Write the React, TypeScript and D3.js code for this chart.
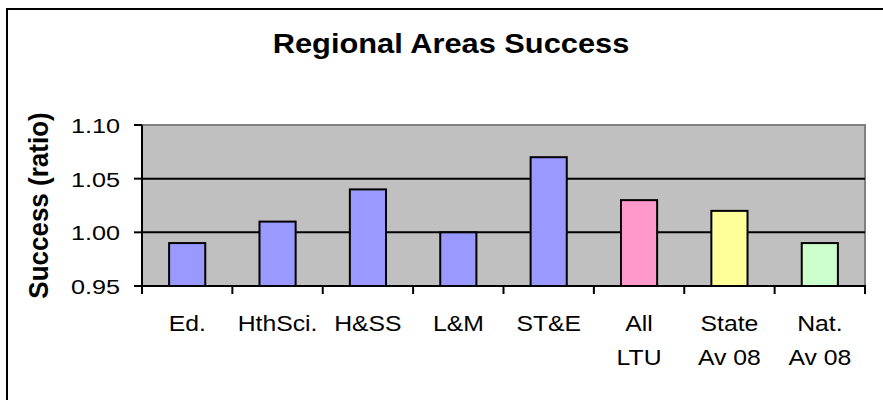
import React from "react";
import * as d3 from "d3";

const categories: string[][] = [
  ["Ed."],
  ["HthSci."],
  ["H&SS"],
  ["L&M"],
  ["ST&E"],
  ["All", "LTU"],
  ["State", "Av 08"],
  ["Nat.", "Av 08"],
];
const values: number[] = [0.99, 1.01, 1.04, 1.0, 1.07, 1.03, 1.02, 0.99];
const barColors: string[] = [
  "#9999FF", "#9999FF", "#9999FF", "#9999FF", "#9999FF", "#FF99CC", "#FFFF99", "#CCFFCC",
];
const yTicks: number[] = [0.95, 1.0, 1.05, 1.1];
const gridValues: number[] = [1.0, 1.05];
const title = "Regional Areas Success";
const yTitle = "Success (ratio)";

const W = 883;
const H = 400;
const plot = { left: 142, right: 865, top: 125, bottom: 286 };
const FONT = "'Liberation Sans', Arial, sans-serif";

export default function App() {
  const keys = categories.map((c) => c.join(" "));
  const x = d3
    .scaleBand<string>()
    .domain(keys)
    .range([plot.left, plot.right])
    .paddingInner(0.6)
    .paddingOuter(0.3);
  const y = d3.scaleLinear().domain([0.95, 1.1]).range([plot.bottom, plot.top]);
  const step = x.step();
  const boundaries = d3.range(keys.length + 1).map((i) => plot.left + i * step);

  return (
    <svg
      width={W}
      height={H}
      style={{ position: "absolute", left: 0, top: 0, background: "#fff" }}
      fontFamily={FONT}
    >
      {/* outer chart border */}
      <rect x={7} y={9} width={W + 20} height={H + 20} fill="#fff" stroke="#000" strokeWidth={2} />

      {/* title */}
      <g transform={`translate(451,53) scale(1.12,1)`}>
        <text textAnchor="middle" fontSize={27.5} fontWeight="bold" fill="#000">
          {title}
        </text>
      </g>

      {/* plot area */}
      <rect
        x={plot.left}
        y={plot.top}
        width={plot.right - plot.left}
        height={plot.bottom - plot.top}
        fill="#C0C0C0"
        stroke="#808080"
        strokeWidth={2}
      />

      {/* gridlines */}
      {gridValues.map((v) => (
        <line key={v} x1={plot.left} x2={plot.right} y1={y(v)} y2={y(v)} stroke="#000" strokeWidth={2} />
      ))}

      {/* bars */}
      {values.map((v, i) => (
        <rect
          key={keys[i]}
          x={x(keys[i])!}
          y={y(v)}
          width={x.bandwidth()}
          height={y(0.95) - y(v)}
          fill={barColors[i]}
          stroke="#000"
          strokeWidth={2}
        />
      ))}

      {/* axes */}
      <line x1={plot.left} x2={plot.left} y1={plot.top} y2={plot.bottom + 8} stroke="#000" strokeWidth={2} />
      <line x1={plot.left - 8} x2={plot.right + 1} y1={plot.bottom} y2={plot.bottom} stroke="#000" strokeWidth={2} />

      {/* y ticks */}
      {yTicks.map((t) => (
        <g key={t}>
          <line x1={plot.left - 8} x2={plot.left} y1={y(t)} y2={y(t)} stroke="#000" strokeWidth={2} />
          <g transform={`translate(120,${y(t) + 8}) scale(1.2,1)`}>
            <text textAnchor="end" fontSize={21} fill="#000">
              {d3.format(".2f")(t)}
            </text>
          </g>
        </g>
      ))}

      {/* x ticks */}
      {boundaries.map((bx, i) => (
        <line key={i} x1={bx} x2={bx} y1={plot.bottom} y2={plot.bottom + 8} stroke="#000" strokeWidth={2} />
      ))}

      {/* x labels */}
      {categories.map((lines, i) => {
        const cx = x(keys[i])! + x.bandwidth() / 2;
        return lines.map((ln, j) => (
          <g key={keys[i] + j} transform={`translate(${cx},${331 + j * 34}) scale(1.1,1)`}>
            <text textAnchor="middle" fontSize={22.5} fill="#000">
              {ln}
            </text>
          </g>
        ));
      })}

      {/* y title */}
      <g transform={`translate(48,${(plot.top + plot.bottom) / 2}) scale(1.08,1) rotate(-90)`}>
        <text textAnchor="middle" fontSize={26} fontWeight="bold" fill="#000">
          {yTitle}
        </text>
      </g>
    </svg>
  );
}
